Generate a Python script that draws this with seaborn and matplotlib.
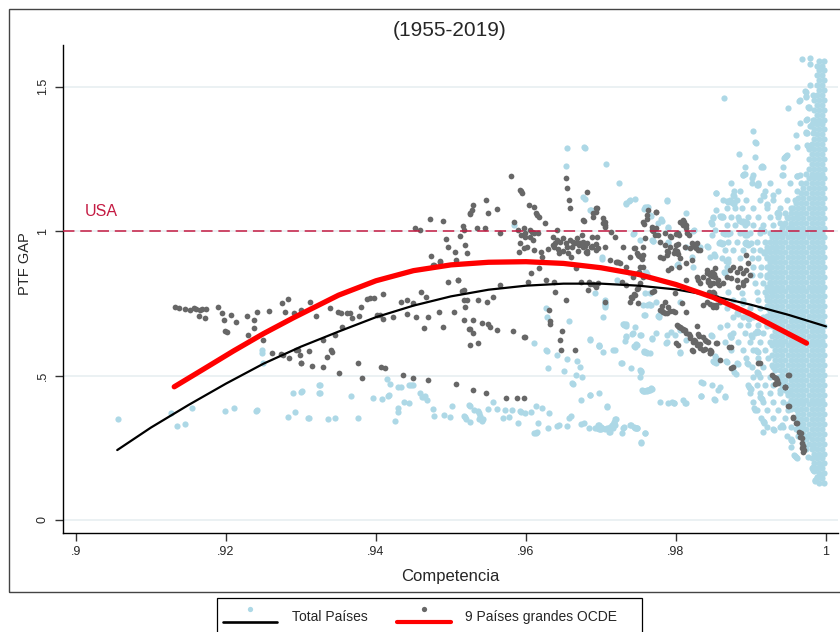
import matplotlib
matplotlib.use("Agg")
import matplotlib.pyplot as plt
import seaborn as sns
import pandas as pd
from matplotlib.lines import Line2D
from matplotlib.patches import Rectangle

# ---------------- data (x in 1e-4 units, y in 1e-3 units) ----------------
gray_points = """
9132,737 9138,733 9145,730 9152,728 9158,735 9160,730 9165,728 9168,731 9173,730 9164,706 9172,699 9190,737
9195,716 9197,692 9207,709 9213,685 9199,654 9202,652 9228,706 9237,692 9242,720 9237,664 9229,640 9249,623
9257,723 9275,751 9283,765 9279,720 9291,716 9300,727 9312,754 9320,706 9261,578 9273,574 9276,570 9284,561
9293,588 9296,589 9300,543 9311,585 9315,533
9329,529 9329,623 9335,564 9340,588 9342,582 9339,733 9346,640 9350,720 9354,716 9355,668 9351,509 9361,716
9366,716 9368,699 9376,543 9382,491 9380,737 9378,706 9388,765 9392,768 9398,770 9409,782 9407,529 9412,527
9401,709 9405,708 9410,695 9423,702 9433,754 9441,761 9436,502 9441,713 9450,491 9450,751 9453,702 9460,789
9464,664 9467,772 9469,484 9469,702 9472,1042 9474,914 9476,882 9478,884 9485,893 9486,898 9489,1035 9484,720
9489,668 9493,972 9496,945 9496,824 9504,720 9505,927 9507,900 9507,471 9509,830 9510,831 9512,983 9515,792
9517,796 9517,761 9516,1017 9518,1003 9519,951 9517,692 9519,737 9524,661 9526,660 9525,1059 9526,1062 9522,924
9521,761 9528,1073 9529,1090 9530,647 9525,606 9530,692 9535,1010 9536,612 9536,761 9542,682 9547,1107 9549,1062
9548,754 9549,678 9552,668 9556,772 9561,1076 9561,657 9565,993 9565,813 9580,1190 9583,654 9584,1031 9592,1142
9593,1137 9595,1132 9591,927 9597,633 9599,633 9598,1010 9598,941 9599,979 9604,1090 9605,1003 9603,824 9607,855
9611,1083 9611,993 9611,934 9614,1062 9615,1055 9617,1048 9616,993 9617,872 9620,927 9622,910 9627,830 9629,938
9626,1028 9631,727 9632,690 9632,680 9636,951 9638,946 9639,960 9639,789 9638,824 9642,1003 9644,924 9646,623
9648,654 9647,588 9653,761 9654,1183 9655,1149 9655,945 9658,1107 9659,1080 9660,910 9665,958 9667,872 9665,588
9669,958 9671,951 9673,824 9675,986 9678,1035 9680,927 9681,932 9682,1135 9683,796 9684,824 9687,945 9690,1048
9693,1066 9695,1080 9695,979 9696,820 9299,571 9300,543 9530,450 9547,439 9574,421 9588,423 9597,423 9452,1010
9459,1004 9545,1012
9636,981 9641,969 9645,963 9650,975 9654,958 9659,969 9661,946 9663,963 9668,975 9672,958 9676,946 9681,958
9688,946 9694,955 9643,937 9650,932 9656,925 9670,932 9681,925 9590,1004 9594,986 9599,992 9605,981 9610,969
9592,958 9601,946 9608,998
9694,1079 9690,1064 9703,1046 9705,1033 9714,998 9719,978 9688,981 9688,948 9696,940 9705,946 9712,900 9723,893
9726,890 9730,946 9734,877 9739,911 9744,940 9746,942 9743,842 9752,914 9754,911 9756,916 9752,877 9756,875
9756,842 9752,821 9761,1042 9763,1073 9768,1015 9770,1000 9772,986 9756,946 9759,975 9774,1067 9774,1010 9776,986
9779,911 9783,906 9785,952 9785,992 9792,983 9794,980 9792,946 9788,917 9794,871 9800,952 9803,955 9798,924
9801,927 9803,922 9804,877 9809,1038 9811,1030 9813,1022 9814,1010 9815,995 9817,988 9812,946 9819,940 9821,900
9828,958 9830,935 9828,842 9814,831 9805,906 9843,824 9845,820 9846,815 9842,854 9848,860 9855,820 9857,812
9844,789 9846,785 9836,744 9854,768 9734,813 9744,782 9746,780 9739,756 9750,750 9768,789 9771,791 9785,756
9790,738 9799,785
9676,1038 9676,962 9677,955 9679,950 9694,935 9703,1029 9705,1022 9706,1015 9748,924 9749,918 9751,915 9755,905
9751,858 9750,855 9720,893 9722,893 9728,825 9740,772 9741,768 9749,803 9748,799 9756,1031 9757,1025 9761,1056
9768,1004 9773,1066 9779,963 9790,865 9788,931 9790,929 9799,935 9801,931 9800,990 9803,994 9804,985 9806,1031
9808,1027 9810,1020 9822,958 9823,953 9825,951 9826,946 9827,943 9814,888 9830,831 9846,848 9848,846 9850,843
9851,851 9852,840 9849,789 9851,785 9850,781 9846,748 9849,743 9852,741 9854,745 9779,727 9781,725 9783,721
9785,717 9685,817 9690,817 9692,814 9694,813 9694,808 9705,756
9801,675 9805,669 9810,658 9814,646 9819,630 9823,617 9828,606 9832,594 9836,588
9782,741 9788,715 9792,725 9796,723 9799,720 9808,752 9814,721 9803,671 9804,669 9807,664 9810,660 9812,656
9818,642 9819,638 9828,671 9830,642 9831,638 9824,623 9826,620 9829,610 9832,608 9839,591 9836,634 9822,590
9823,586 9800,612 9803,607 9845,577 9855,612 9850,741 9853,738
9871,599 9874,598 9874,525 9853,614 9859,554 9847,585 9846,587 9839,623 9840,620 9843,617 9847,582 9846,579
9876,531 9909,543 9931,495 9933,490 9935,484 9936,474 9949,502 9945,461 9894,917 9832,935
9872,865 9876,877 9881,860 9885,871 9890,854 9894,865 9899,848 9874,837 9881,831 9889,825 9894,831 9883,808
9890,813 9868,842 9863,819 9896,889 9841,865 9848,854 9852,871 9843,831 9850,819 9856,831 9845,785 9854,773
9859,756 9841,756 9850,738 9832,820 9836,842
9912,542 9928,502 9933,474 9951,502 9945,461 9951,395 9956,358 9960,335 9967,301 9968,285 9968,268 9969,256
9968,249 9932,472 9945,459 9950,396 9956,354 9961,337 9964,306 9965,288 9969,256 9970,236 9971,243
"""

blue_points = """
9056,348 9127,370 9135,325 9145,332 9155,387 9199,377 9211,387 9240,377 9242,379 9248,589 9248,579 9250,543
9283,357 9292,374 9289,439 9301,446 9311,353 9324,467 9324,439
9655,1287 9679,1287 9654,1225 9679,1111 9687,1073 9584,1021 9627,734 9628,702 9657,689 9611,612 9627,588 9628,584
9641,571 9655,557 9668,550 9672,529 9686,626 9698,606 9629,526 9651,516 9661,474 9663,472 9667,502 9675,495
9686,433 9673,415 9697,439 9300,443 9325,467 9325,439 9367,429 9309,353 9336,349 9345,353 9376,353 9396,422
9408,419 9416,429 9418,431 9415,488 9419,471 9426,343 9429,374 9429,388 9430,460 9434,459 9444,467 9447,468
9449,467 9437,408 9444,405 9459,439 9462,426 9464,427 9466,429 9468,415 9476,384 9477,360 9491,363 9502,394
9499,356 9518,360 9519,358 9520,349 9524,398 9526,396 9526,339 9531,381 9536,377 9537,370 9539,360 9538,349
9543,349 9541,343 9549,384 9556,408 9561,384 9569,353 9572,381 9578,356 9582,381 9589,336 9592,377 9593,374
9599,370 9607,374 9613,394 9616,336 9622,387 9631,370 9611,300 9614,302 9615,305 9629,318 9642,325 9644,330
9655,325 9658,353 9660,360 9674,332 9677,336 9684,318 9692,318 9695,320 9697,329
9707,1231 9724,1168 9734,1097 9733,1092 9745,1110 9757,1076 9761,1079 9763,1085 9765,1056 9767,1053 9780,1042
9781,1035 9788,1104 9772,1004 9789,1014 9790,1011 9814,946 9821,911 9823,877 9801,883 9803,885 9832,946 9841,948
9843,946 9845,911 9848,986 9852,1004 9849,1045 9850,1050 9854,1133 9854,1073 9759,787 9765,785 9774,756 9756,744
9705,761 9705,738 9692,785 9685,1073 9765,744 9767,744 9805,756
9705,744 9761,744 9764,748 9757,710 9759,710 9776,706 9777,708 9778,702 9731,678 9733,680 9733,673 9743,647
9742,643 9754,640 9768,630 9768,625 9732,620 9747,609 9748,607 9759,582 9760,580 9762,579 9787,613 9788,616
9794,652 9799,640 9805,582 9806,579 9814,623 9685,623 9697,602 9698,601 9703,583 9719,588 9727,545 9740,525
9753,516 9754,512 9850,550 9851,546 9853,545 9834,479 9848,467 9856,450 9761,450 9756,447 9758,445 9755,449
9762,448 9759,446 9685,433 9708,395 9790,405 9812,405 9833,430 9851,418 9717,339 9718,335 9716,330 9715,328
9719,328 9696,318 9697,316 9699,316 9700,314 9711,305 9712,306 9728,302 9739,329 9740,330 9747,318 9748,319
9759,300 9753,268
9864,1460 9903,1348 9907,1305 9906,1308 9884,1266 9905,1255 9915,1225 9916,1223 9891,1198 9892,1196 9890,1194
9908,1160 9909,1162 9910,1158 9916,1125 9917,1122 9901,1183 9930,1125 9943,1194 9947,1260 9948,1262 9853,1133
9876,1125 9877,1120 9868,1103 9870,1100 9872,1103 9874,1101 9876,1098 9877,1099 9878,1095 9859,1052 9860,1049
9862,1052 9863,1048 9884,1038 9886,1035 9888,1031 9889,1035 9891,1031 9893,1032 9895,1029 9847,1031 9848,1026
9864,993 9866,991 9868,995 9869,990 9891,992 9892,988 9894,991 9895,985 9913,1006 9915,1002 9917,999 9935,1063
9936,1067 9938,1060 9921,1090 9922,1093 9858,960 9860,957 9862,954 9863,959 9892,957 9894,956 9896,953 9898,954
9900,957 9917,927 9918,924 9919,929 9851,921 9852,915 9867,898 9869,893 9870,903 9864,860 9865,856 9888,785
9890,750 9895,705 9896,700 9897,695 9882,716 9883,712 9908,655 9909,651 9910,650 9900,640 9901,634 9907,590
9908,585 9910,583 9872,640 9873,635 9874,632 9859,669 9847,640 9848,636 9852,566 9853,561 9867,550 9868,546
9882,545 9883,540 9895,545 9896,540 9908,512 9909,509 9910,505 9898,462 9899,458 9900,455 9912,424 9914,421
9915,418 9904,387 9905,382 9916,342 9917,338 9918,334 9916,306 9930,316 9931,312 9942,328 9943,323 9953,280
9954,276 9955,272 9958,226 9959,222 9960,218 9961,215 9983,173 9984,168 9985,138 9986,135 9859,461 9865,430
9866,426 9852,415 9836,473 9814,404 9797,404 9834,429 9878,511 9880,507
9968,1595 9979,1600 9979,1578 9950,1425 9964,1450 9965,1452 9972,1484 9973,1482 9973,1464 9974,1466 9979,1506
9983,1471 9976,1430 9977,1428 9978,1425 9975,1388 9974,1386 9965,1373 9973,1343 9974,1341 9975,1339 9979,1364
9983,1385 9983,1340 9960,1333 9975,1298 9976,1296 9977,1293 9978,1290 9961,1292 9945,1257 9946,1255 9944,1253
9961,1191 9962,1189
9677,1290 9676,1119 9738,1104 9739,1106 9759,1083 9760,1080 9761,1082 9788,1108 9776,1027 9743,990 9744,993
9752,969 9768,969 9769,967 9770,965 9789,962 9790,958 9823,1000 9824,1002 9814,1062 9701,910 9702,905 9739,854
9759,855 9760,858 9761,852 9721,831 9705,751 9705,749 9703,704 9730,678 9731,675 9745,669 9733,637 9734,634
9752,640 9774,646 9788,640 9805,658 9744,602 9745,599 9757,585 9758,582 9765,577 9716,588 9728,542 9752,519
9752,496 9767,457 9768,455 9763,450 9764,451 9766,449 9708,392 9779,409 9795,408 9797,406 9810,415 9720,350
9719,348 9696,329 9700,322 9702,318 9705,316 9708,319 9712,322 9716,318 9730,318 9731,322 9744,322 9746,320
9748,317 9754,271 9759,302
"""

# semi-dense cloud left of the main band, row by row (y | x values)
blue_cloud = """
1223|9892 9914 9943
1194|9890 9903 9941 9965
1165|9874 9901 9910 9925 9952
1137|9877 9885 9919 9936 9961
1108|9863 9872 9881 9894 9912 9930 9948 9959
1079|9868 9879 9888 9903 9921 9939 9954
1050|9861 9874 9883 9896 9910 9925 9936 9948 9961
1021|9868 9879 9892 9903 9916 9930 9943 9954
992|9863 9872 9885 9899 9912 9925 9936
963|9859 9870 9881 9894 9908 9919 9932
935|9865 9876 9890 9903 9912 9923 9934
906|9861 9885 9901 9910 9921 9930
877|9868 9903 9914 9923
848|9901 9912 9921
819|9905 9916 9925
790|9870 9908 9919 9928
762|9863 9876 9890 9910 9921
733|9868 9881 9899 9912 9923
704|9876 9890 9903 9916
675|9868 9885 9896 9910 9921
646|9876 9892 9905 9916
617|9865 9883 9899 9912 9925
588|9874 9890 9903 9919
560|9894 9910 9923
531|9876 9901 9916 9930
496|9903 9912 9925 9936
467|9896 9908 9919 9930 9943
439|9899 9912 9925 9939 9950
410|9903 9916 9930 9943 9954
381|9908 9921 9936 9950 9961
352|9914 9930 9945 9959
323|9921 9939 9954 9968
289|9948 9963 9976
254|9954 9972 9983
219|9976 9988
185|9983 9992
150|9988 9994
"""

# dense band of observations close to full competition (y | x values)
blue_dense = """
1590|9998 9991
1573|9995 9988
1556|9998 9991
1539|9995 9988
1522|9998 9991
1505|9995 9988
1488|9998 9991
1471|9995 9988
1454|9998 9991 9984
1437|9995 9988
1420|9998 9991 9984
1403|9995 9988
1386|9998 9991 9984
1369|9995 9988 9981
1352|9998 9991 9984
1335|9995 9988
1318|9998 9991 9984
1301|9995 9988 9981
1284|9998 9991 9984 9977
1267|9995 9988 9981
1250|9998 9991 9984 9977
1233|9995 9988 9981
1216|9998 9991 9984 9977
1199|9995 9988 9981 9974
1182|9998 9991 9984 9977
1165|9995 9988 9981 9974 9967
1148|9998 9991 9984 9977 9970
1131|9995 9988 9981 9974 9967
1114|9998 9991 9984 9977 9970 9963
1097|9995 9988 9981 9974 9967 9960
1080|9998 9991 9984 9977 9970 9963 9956
1063|9995 9988 9981 9974 9967 9960 9953 9946
1046|9998 9991 9984 9977 9970 9963 9956 9949
1029|9995 9988 9981 9974 9967 9960 9953 9946 9939
1012|9998 9991 9984 9977 9970 9963 9956 9949 9942
995|9995 9988 9981 9974 9967 9960 9953 9946 9939 9932
978|9998 9991 9984 9977 9970 9963 9956 9949 9942 9935 9928
961|9995 9988 9981 9974 9967 9960 9953 9946 9939 9932 9925
944|9998 9991 9984 9977 9970 9963 9956 9949 9942 9935 9928 9921
927|9995 9988 9981 9974 9967 9960 9953 9946 9939 9932 9925
910|9998 9991 9984 9977 9970 9963 9956 9949 9942 9935 9928 9921
893|9995 9988 9981 9974 9967 9960 9953 9946 9939 9932 9925
876|9998 9991 9984 9977 9970 9963 9956 9949 9942 9935 9928 9921
859|9995 9988 9981 9974 9967 9960 9953 9946 9939 9932 9925
842|9998 9991 9984 9977 9970 9963 9956 9949 9942 9935 9928 9921
825|9995 9988 9981 9974 9967 9960 9953 9946 9939 9932 9925
808|9998 9991 9984 9977 9970 9963 9956 9949 9942 9935 9928 9921
791|9995 9988 9981 9974 9967 9960 9953 9946 9939 9932 9925
774|9998 9991 9984 9977 9970 9963 9956 9949 9942 9935 9928 9921
757|9995 9988 9981 9974 9967 9960 9953 9946 9939 9932 9925
740|9998 9991 9984 9977 9970 9963 9956 9949 9942 9935 9928 9921
723|9995 9988 9981 9974 9967 9960 9953 9946 9939 9932 9925
706|9998 9991 9984 9977 9970 9963 9956 9949 9942 9935 9928 9921
689|9995 9988 9981 9974 9967 9960 9953 9946 9939 9932 9925
672|9998 9991 9984 9977 9970 9963 9956 9949 9942 9935 9928 9921
655|9995 9988 9981 9974 9967 9960 9953 9946 9939 9932
638|9998 9991 9984 9977 9970 9963 9956 9949 9942 9935 9928
621|9995 9988 9981 9974 9967 9960 9953 9946 9939 9932
604|9998 9991 9984 9977 9970 9963 9956 9949 9942 9935 9928
587|9995 9988 9981 9974 9967 9960 9953 9946 9939 9932
570|9998 9991 9984 9977 9970 9963 9956 9949 9942 9935 9928
553|9995 9988 9981 9974 9967 9960 9953 9946 9939 9932
536|9998 9991 9984 9977 9970 9963 9956 9949 9942 9935 9928
519|9995 9988 9981 9974 9967 9960 9953 9946 9939 9932
502|9998 9991 9984 9977 9970 9963 9956 9949 9942
485|9995 9988 9981 9974 9967 9960 9953 9946 9939
468|9998 9991 9984 9977 9970 9963 9956 9949 9942
451|9995 9988 9981 9974 9967 9960 9953 9946 9939
434|9998 9991 9984 9977 9970 9963 9956 9949
417|9995 9988 9981 9974 9967 9960 9953
400|9998 9991 9984 9977 9970 9963 9956 9949
383|9995 9988 9981 9974 9967 9960 9953
366|9998 9991 9984 9977 9970 9963
349|9995 9988 9981 9974 9967 9960
332|9998 9991 9984 9977 9970 9963
315|9995 9988 9981 9974 9967 9960
298|9998 9991 9984 9977 9970
281|9995 9988 9981 9974
264|9998 9991 9984 9977 9970
247|9995 9988 9981 9974
230|9998 9991 9984
213|9995 9988 9981
196|9998 9991 9984
179|9995 9988 9981
162|9998 9991
145|9995 9988
128|9998 9991
"""

# fitted curves
fit_total_x = [0.9055, 0.91, 0.915, 0.92, 0.925, 0.93, 0.935, 0.94, 0.945, 0.95,
               0.955, 0.96, 0.965, 0.97, 0.975, 0.98, 0.985, 0.99, 0.995, 1.0]
fit_total_y = [0.242, 0.320, 0.398, 0.472, 0.541, 0.600, 0.652, 0.702, 0.742, 0.774,
               0.797, 0.811, 0.818, 0.818, 0.811, 0.798, 0.775, 0.745, 0.710, 0.670]
fit_ocde_x = [0.9131, 0.917, 0.921, 0.925, 0.929, 0.935, 0.94, 0.945, 0.95, 0.955,
              0.96, 0.965, 0.97, 0.975, 0.98, 0.985, 0.99, 0.9974]
fit_ocde_y = [0.461, 0.522, 0.585, 0.645, 0.700, 0.778, 0.828, 0.863, 0.883, 0.892,
              0.894, 0.888, 0.873, 0.850, 0.815, 0.770, 0.712, 0.612]

x_ticks = [0.9, 0.92, 0.94, 0.96, 0.98, 1.0]
x_ticklabels = [".9", ".92", ".94", ".96", ".98", "1"]
y_ticks = [0, 0.5, 1, 1.5]
y_ticklabels = ["0", ".5", "1", "1.5"]
usa_level = 1.0


def parse_pairs(s):
    xs, ys = [], []
    for tok in s.split():
        a, b = tok.split(",")
        xs.append(int(a) / 10000.0)
        ys.append(int(b) / 1000.0)
    return xs, ys


def parse_rows(s):
    xs, ys = [], []
    for line in s.strip().splitlines():
        yv, xl = line.split("|")
        for a in xl.split():
            xs.append(int(a) / 10000.0)
            ys.append(int(yv) / 1000.0)
    return xs, ys


gx, gy = parse_pairs(gray_points)
bx1, by1 = parse_pairs(blue_points)
bx2, by2 = parse_rows(blue_cloud)
bx3, by3 = parse_rows(blue_dense)
df_gray = pd.DataFrame({"competencia": gx, "ptf_gap": gy})
df_blue = pd.DataFrame({"competencia": bx1 + bx2 + bx3, "ptf_gap": by1 + by2 + by3})
df_fit_total = pd.DataFrame({"competencia": fit_total_x, "ptf_gap": fit_total_y})
df_fit_ocde = pd.DataFrame({"competencia": fit_ocde_x, "ptf_gap": fit_ocde_y})

# ---------------- style ----------------
sns.set_style("white")
plt.rcParams["font.family"] = ["Liberation Sans", "DejaVu Sans"]

W, H = 840, 632
fig = plt.figure(figsize=(W / 100, H / 100), dpi=100)
fig.patch.set_facecolor("white")


def fx(px):
    return px / W


def fy(py):
    return 1 - py / H


ax_l, ax_r, ax_t, ax_b = 62.7, 838.0, 45.0, 532.7
ax = fig.add_axes([fx(ax_l), fy(ax_b), (ax_r - ax_l) / W, (ax_b - ax_t) / H])
ax.set_facecolor("white")

BLUE = "#add8e6"
GRAY = "#676767"
CRIMSON = "#c41a42"

# grid lines
for yt in y_ticks:
    ax.axhline(yt, color="#e6eef0", lw=1.1, zorder=0)

sns.scatterplot(data=df_blue, x="competencia", y="ptf_gap", color=BLUE, s=20,
                linewidth=0, ax=ax, legend=False, zorder=2)
sns.scatterplot(data=df_gray, x="competencia", y="ptf_gap", color=GRAY, s=17,
                linewidth=0, ax=ax, legend=False, zorder=3)
sns.lineplot(data=df_fit_total, x="competencia", y="ptf_gap", color="black", lw=1.6,
             ax=ax, legend=False, sort=True, estimator=None, zorder=4)
sns.lineplot(data=df_fit_ocde, x="competencia", y="ptf_gap", color="#ff0000", lw=3.8,
             ax=ax, legend=False, sort=True, estimator=None, zorder=5,
             solid_capstyle="round")

ax.axhline(usa_level, color=CRIMSON, lw=1.1, dashes=(7.5, 3.8), zorder=6)
ax.text(0.9012, 1.066, "USA", color=CRIMSON, fontsize=11.5, ha="left", va="center")

ax.set_xlim(0.89823, 1.0016)
ax.set_ylim(-0.044, 1.644)
ax.set_xticks(x_ticks)
ax.set_xticklabels(x_ticklabels)
ax.set_yticks(y_ticks)
ax.set_yticklabels(y_ticklabels, rotation=90, va="center")

for side in ["top", "right"]:
    ax.spines[side].set_visible(False)
for side in ["left", "bottom"]:
    ax.spines[side].set_color("black")
    ax.spines[side].set_linewidth(1.0)

ax.tick_params(axis="both", which="major", direction="out", length=6, width=1.0,
               color="#333333", labelsize=9, bottom=True, left=True)
ax.tick_params(axis="x", pad=3.4)
ax.tick_params(axis="y", pad=4.0)

ax.set_xlabel("Competencia", fontsize=12, va="center")
ax.xaxis.set_label_coords(0.5, (ax_b - 576.7) / (ax_b - ax_t))
ax.set_ylabel("PTF GAP", fontsize=10.5, va="center")
ax.yaxis.set_label_coords((25 - ax_l) / (ax_r - ax_l), (ax_b - 264) / (ax_b - ax_t))

fig.text(fx(450), fy(31), "(1955-2019)", fontsize=15, ha="center", va="center")

# outer frame
fig.patches.append(Rectangle((fx(9), fy(592)), fx(850) - fx(9), fy(9) - fy(592),
                             transform=fig.transFigure, fill=False,
                             edgecolor="#444444", lw=1.0, zorder=0))

# legend
fig.patches.append(Rectangle((fx(217), fy(640)), fx(642) - fx(217), fy(598.3) - fy(640),
                             transform=fig.transFigure, fill=False,
                             edgecolor="black", lw=0.9))
fig.lines.append(Line2D([fx(222.7), fx(277.3)], [fy(622.3), fy(622.3)],
                        transform=fig.transFigure, color="black", lw=1.9))
fig.lines.append(Line2D([fx(250)], [fy(609)], transform=fig.transFigure, marker="o",
                        ls="none", ms=3.8, mfc=BLUE, mec="none"))
fig.text(fx(291.7), fy(617.3), "Total Países", fontsize=10, ha="left", va="center")
fig.lines.append(Line2D([fx(396.7), fx(450.7)], [fy(622.3), fy(622.3)],
                        transform=fig.transFigure, color="#ff0000", lw=3.0))
fig.lines.append(Line2D([fx(423.7)], [fy(609)], transform=fig.transFigure, marker="o",
                        ls="none", ms=3.8, mfc=GRAY, mec="none"))
fig.text(fx(465), fy(617.3), "9 Países grandes OCDE", fontsize=10, ha="left", va="center")

fig.savefig("out.png", dpi=100, facecolor="white")
